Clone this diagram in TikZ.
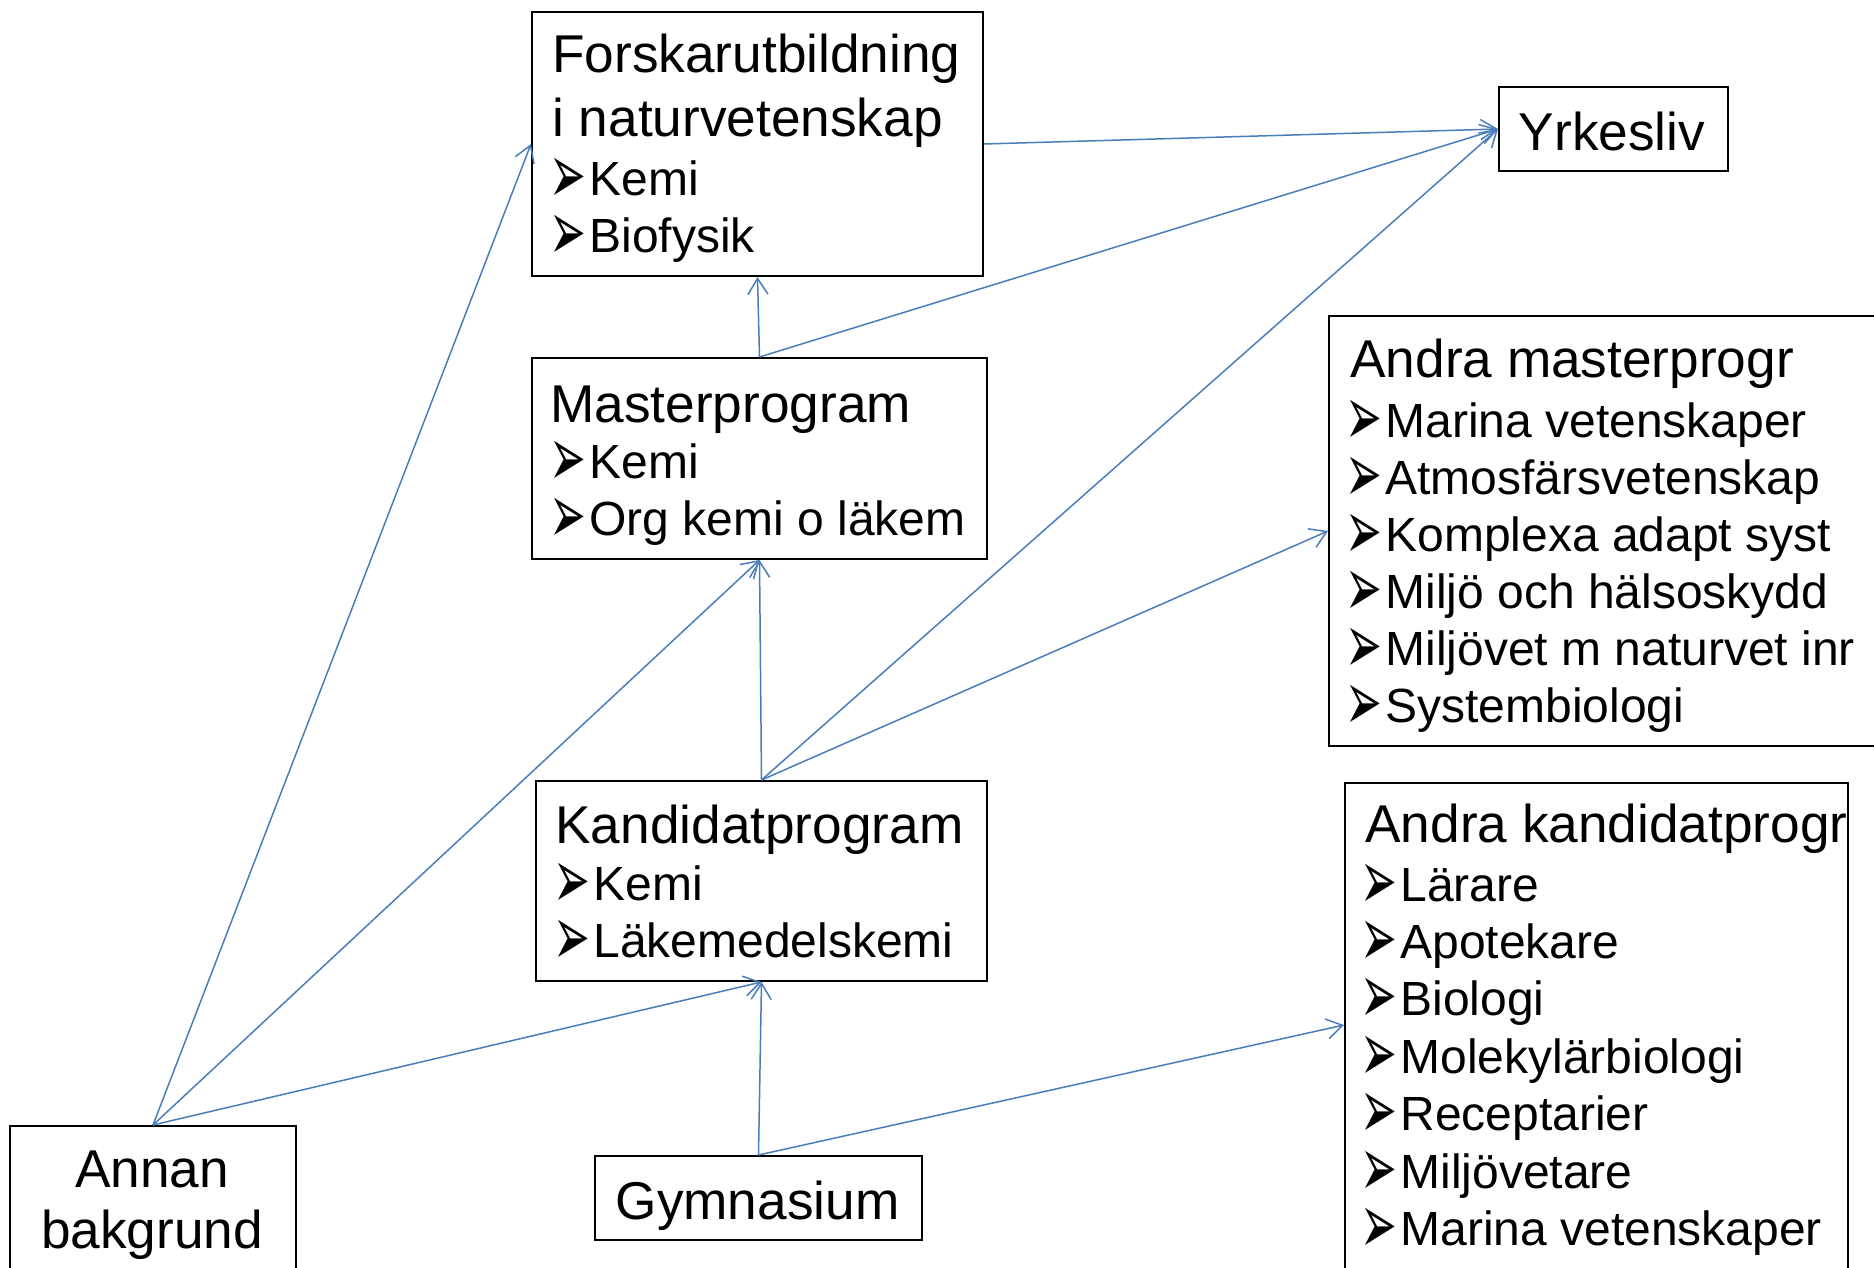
\documentclass[tikz,border=0pt]{standalone}
\usepackage{fontspec}
\usepackage{graphicx}
\setmainfont{Liberation Sans}
\newfontfamily\bulfont{DejaVu Sans}
\usetikzlibrary{arrows.meta}
\definecolor{linkblue}{RGB}{74,126,187}
\newcommand{\bl}{\makebox[17pt][l]{\hspace{-3pt}\smash{\raisebox{-4pt}{\bulfont\fontsize{22pt}{22pt}\selectfont\scalebox{1}[1.93]{➢}}}}}
\begin{document}
\begin{tikzpicture}[x=0.5pt,y=-0.5pt,
  box/.style={draw=black, line width=1pt, inner sep=0pt, anchor=north west},
  txt/.style={inner sep=0pt, anchor=base west, font=\fontsize{26.6pt}{30pt}\selectfont},
  btxt/.style={inner sep=0pt, anchor=base west, font=\fontsize{24pt}{28pt}\selectfont},
  ctxt/.style={inner sep=0pt, anchor=base, font=\fontsize{26.6pt}{30pt}\selectfont},
  link/.style={draw=linkblue, line width=0.75pt, -{Straight Barb[length=8pt,width=10pt]}}]
\useasboundingbox (0,0) rectangle (1874,1268);
\fill[white] (0,0) rectangle (1874,1268);

% boxes
\node[box, minimum width=225.5pt, minimum height=132pt] (forskar) at (531,11) {};
\node[box, minimum width=114.5pt, minimum height=42pt] (yrk) at (1498,86) {};
\node[box, minimum width=227.5pt, minimum height=100.5pt] (master) at (531,357) {};
\node[box, minimum width=225.5pt, minimum height=100pt] (kand) at (535,780) {};
\node[box, minimum width=281pt, minimum height=215pt] (amast) at (1328,315) {};
\node[box, minimum width=251.5pt, minimum height=254pt] (akand) at (1344,782) {};
\node[box, minimum width=143pt, minimum height=82.5pt] (annan) at (9,1125) {};
\node[box, minimum width=163.5pt, minimum height=42pt] (gym) at (594,1155) {};

% texts
\node[txt] (f-t1) at (552,73) {Forskarutbildning};
\node[txt] (f-t2) at (552,136) {i naturvetenskap};
\node[btxt] (f-b1) at (555,195) {\bl Kemi};
\node[btxt] (f-b2) at (555,252) {\bl Biofysik};

\node[ctxt] (y-t) at (1612,150) {Yrkesliv};

\node[txt] (m-t) at (550,422) {Masterprogram};
\node[btxt] (m-b1) at (555,478) {\bl Kemi};
\node[btxt] (m-b2) at (555,535) {\bl Org kemi o läkem};

\node[txt] (k-t) at (555,843) {Kandidatprogram};
\node[btxt] (k-b1) at (559,900) {\bl Kemi};
\node[btxt] (k-b2) at (559,957) {\bl Läkemedelskemi};

\node[txt] (am-t) at (1350,377) {Andra masterprogr};
\foreach \t/\y [count=\i] in {Marina vetenskaper/437, Atmosfärsvetenskap/494,
  Komplexa adapt syst/551, Miljö och hälsoskydd/608, Miljövet m naturvet inr/665,
  Systembiologi/722}
  \node[btxt] (am-\i) at (1351,\y) {\bl\t};

\node[txt] (ak-t) at (1365,842) {Andra kandidatprogr};
\foreach \t/\y [count=\i] in {Lärare/901, Apotekare/958, Biologi/1015,
  Molekylärbiologi/1073, Receptarier/1130, Miljövetare/1188, Marina vetenskaper/1245}
  \node[btxt] (ak-\i) at (1366,\y) {\bl\t};

\node[ctxt] (a-t1) at (152,1187) {Annan};
\node[ctxt] (a-t2) at (152,1248) {bakgrund};

\node[ctxt] (g-t) at (757.5,1219) {Gymnasium};

% connectors
\draw[link] (annan.north) -- (forskar.west);
\draw[link] (annan.north) -- (master.south);
\draw[link] (annan.north) -- (kand.south);
\draw[link] (gym.north) -- (kand.south);
\draw[link] (gym.north) -- ([yshift=-121.5pt]akand.north west);
\draw[link] (kand.north) -- (master.south);
\draw[link] (kand.north) -- (yrk.west);
\draw[link] (kand.north) -- (amast.west);
\draw[link] (master.north) -- (forskar.south);
\draw[link] (master.north) -- (yrk.west);
\draw[link] (forskar.east) -- (yrk.west);
\end{tikzpicture}
\end{document}
